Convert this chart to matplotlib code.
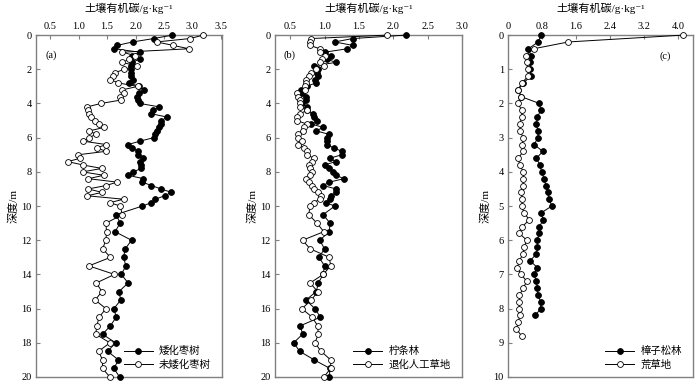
import matplotlib
matplotlib.use("Agg")
import matplotlib.pyplot as plt

plt.rcParams['font.family'] = ['Liberation Serif', 'Noto Sans CJK SC', 'DejaVu Sans']
plt.rcParams['font.size'] = 7.5

# sample depths (m)
depth_ab = [0.0, 0.2, 0.4, 0.6, 0.8, 1.0, 1.2, 1.4, 1.6, 1.8,
            2.0, 2.2, 2.4, 2.6, 2.8, 3.0, 3.2, 3.4, 3.6, 3.8,
            4.0, 4.2, 4.4, 4.6, 4.8, 5.0, 5.2, 5.4, 5.6, 5.8,
            6.0, 6.2, 6.4, 6.6, 6.8, 7.0, 7.2, 7.4, 7.6, 7.8,
            8.0, 8.2, 8.4, 8.6, 8.8, 9.0, 9.2, 9.4, 9.6, 9.8,
            10.0, 10.5, 11.0, 11.5, 12.0, 12.5, 13.0, 13.5, 14.0, 14.5,
            15.0, 15.5, 16.0, 16.5, 17.0, 17.5, 18.0, 18.5, 19.0, 19.5, 20.0]
depth_c_pine = [0.0, 0.2, 0.4, 0.6, 0.8, 1.0, 1.2, 1.4, 1.6, 1.8,
                2.0, 2.2, 2.4, 2.6, 2.8, 3.0, 3.2, 3.4, 3.6, 3.8,
                4.0, 4.2, 4.4, 4.6, 4.8, 5.0, 5.2, 5.4, 5.6, 5.8,
                6.0, 6.2, 6.4, 6.6, 6.8, 7.0, 7.2, 7.4, 7.6, 7.8,
                8.0, 8.2]
depth_c_grass = depth_c_pine + [8.4, 8.6, 8.8]

# soil organic carbon, g/kg
dwarf_jujube = [2.65, 2.32, 1.95, 1.68, 1.63, 2.08, 1.93, 2.08, 1.93, 1.92,
                1.92, 1.92, 1.92, 1.95, 1.88, 2.07, 2.15, 2.06, 2.03, 2.04,
                2.08, 2.42, 2.31, 2.28, 2.56, 2.45, 2.45, 2.42, 2.37, 2.35,
                2.32, 2.08, 1.87, 1.94, 2.04, 2.04, 2.14, 2.08, 2.10, 2.10,
                1.96, 1.87, 2.14, 2.12, 2.28, 2.45, 2.63, 2.51, 2.35, 2.28,
                2.12, 1.66, 1.73, 1.64, 1.93, 1.82, 1.79, 1.83, 1.75, 1.87,
                1.71, 1.74, 1.62, 1.66, 1.56, 1.42, 1.65, 1.51, 1.70, 1.62, 1.72]
normal_jujube = [3.19, 2.96, 2.37, 2.66, 2.94, 1.77, 1.99, 1.89, 1.77, 2.02,
                 1.80, 1.64, 1.60, 1.56, 1.70, 2.04, 1.77, 1.80, 1.73, 1.74,
                 1.39, 1.15, 1.17, 1.19, 1.21, 1.29, 1.36, 1.45, 1.19, 1.30,
                 1.19, 1.07, 1.48, 1.32, 1.48, 0.99, 1.03, 0.81, 1.08, 1.41,
                 1.07, 1.44, 1.17, 1.68, 1.48, 1.17, 1.41, 1.15, 1.79, 1.55,
                 1.73, 1.77, 1.48, 1.49, 1.48, 1.42, 1.56, 1.18, 1.63, 1.31,
                 1.41, 1.29, 1.48, 1.36, 1.32, 1.30, 1.55, 1.35, 1.42, 1.42, 1.55]
caragana = [2.18, 1.41, 1.15, 1.41, 1.33, 1.00, 1.10, 1.04, 1.16, 0.84,
            0.91, 0.89, 0.90, 0.86, 0.87, 0.74, 0.66, 0.67, 0.73, 0.73,
            0.67, 0.74, 0.74, 0.83, 0.84, 0.89, 0.81, 0.98, 0.88, 1.06,
            1.03, 1.04, 1.03, 1.14, 1.25, 1.25, 1.08, 1.16, 1.00, 1.06,
            1.13, 1.17, 1.28, 1.07, 0.98, 1.17, 1.17, 1.10, 1.08, 1.02,
            1.15, 0.98, 1.08, 1.07, 0.93, 1.00, 0.92, 1.00, 0.98, 0.91,
            0.88, 0.73, 0.86, 0.94, 0.65, 0.68, 0.55, 0.64, 0.85, 1.08, 1.07]
degraded_grass = [1.91, 0.81, 0.79, 0.79, 0.93, 0.94, 1.01, 0.96, 0.94, 0.99,
                  0.88, 0.81, 0.78, 0.73, 0.73, 0.72, 0.72, 0.60, 0.62, 0.64,
                  0.65, 0.65, 0.74, 0.65, 0.60, 0.60, 0.74, 0.70, 0.68, 0.62,
                  0.62, 0.67, 0.62, 0.70, 0.74, 0.75, 0.84, 0.82, 0.77, 0.79,
                  0.82, 0.79, 0.73, 0.78, 0.82, 0.84, 0.90, 0.95, 0.93, 0.84,
                  0.79, 0.77, 0.89, 0.99, 0.68, 0.79, 1.07, 1.09, 0.98, 0.79,
                  0.90, 0.81, 0.67, 0.82, 0.90, 0.91, 0.86, 0.95, 1.09, 1.09, 0.99]
pine = [0.78, 0.71, 0.48, 0.54, 0.52, 0.52, 0.54, 0.36, 0.24, 0.31,
        0.74, 0.77, 0.69, 0.67, 0.70, 0.71, 0.61, 0.82, 0.67, 0.75,
        0.79, 0.85, 0.89, 0.93, 0.97, 1.03, 0.78, 0.83, 0.74, 0.73,
        0.69, 0.69, 0.67, 0.52, 0.69, 0.61, 0.67, 0.69, 0.70, 0.77,
        0.77, 0.64]
wild_grass = [4.11, 1.42, 0.60, 0.42, 0.44, 0.46, 0.48, 0.32, 0.24, 0.31,
              0.24, 0.32, 0.32, 0.28, 0.28, 0.36, 0.34, 0.36, 0.24, 0.28,
              0.36, 0.36, 0.35, 0.31, 0.34, 0.32, 0.38, 0.50, 0.34, 0.27,
              0.44, 0.38, 0.35, 0.27, 0.22, 0.31, 0.44, 0.36, 0.27, 0.27,
              0.26, 0.28, 0.24, 0.20, 0.32]

xlabel = '土壤有机碳/g·kg⁻¹'
ylabel = '深度/m'

fig = plt.figure(figsize=(7, 3.85), dpi=100)
ax_a = fig.add_axes([0.0514, 0.0208, 0.2657, 0.888])
ax_b = fig.add_axes([0.3929, 0.0208, 0.2671, 0.888])
ax_c = fig.add_axes([0.7257, 0.0208, 0.2643, 0.888])

panels = [
    (ax_a, depth_ab, dwarf_jujube, depth_ab, normal_jujube, '矮化枣树', '未矮化枣树',
     (0.25, 3.52), [0.5, 1.0, 1.5, 2.0, 2.5, 3.0, 3.5], ['0.5', '1.0', '1.5', '2.0', '2.5', '3.0', '3.5'],
     (20, 0), list(range(0, 21, 2)), '(a)', (0.05, 0.935)),
    (ax_b, depth_ab, caragana, depth_ab, degraded_grass, '柠条林', '退化人工草地',
     (0.28, 3.0), [0.5, 1.0, 1.5, 2.0, 2.5, 3.0], ['0.5', '1.0', '1.5', '2.0', '2.5', '3.0'],
     (20, 0), list(range(0, 21, 2)), '(b)', (0.045, 0.935)),
    (ax_c, depth_c_pine, pine, depth_c_grass, wild_grass, '樟子松林', '荒草地',
     (0, 4.35), [0, 0.8, 1.6, 2.4, 3.2, 4.0], ['0', '0.8', '1.6', '2.4', '3.2', '4.0'],
     (10, 0), list(range(0, 11)), '(c)', (0.82, 0.93)),
]

for ax, d1, v1, d2, v2, lab1, lab2, xlim, xt, xtl, ylim, yt, tag, tagpos in panels:
    ax.plot(v1, d1, color='black', lw=0.7, marker='o', ms=4.2,
            mfc='black', mec='black', mew=0.6, label=lab1, clip_on=False, zorder=3)
    ax.plot(v2, d2, color='black', lw=0.7, marker='o', ms=4.2,
            mfc='white', mec='black', mew=0.6, label=lab2, clip_on=False, zorder=4)
    ax.set_xlim(*xlim)
    ax.set_ylim(*ylim)
    ax.set_xticks(xt)
    ax.set_xticklabels(xtl)
    ax.set_yticks(yt)
    ax.xaxis.tick_top()
    ax.xaxis.set_label_position('top')
    ax.set_xlabel(xlabel, labelpad=7, fontsize=8)
    ax.set_ylabel(ylabel, labelpad=2, fontsize=8)
    ax.tick_params(axis='both', direction='in', length=3, width=0.8,
                   color='#808080', pad=3, labelsize=7.5)
    for s in ax.spines.values():
        s.set_color('#808080')
        s.set_linewidth(1.0)
    ax.text(tagpos[0], tagpos[1], tag, transform=ax.transAxes, fontsize=7.5)
    ax.legend(loc='lower right', frameon=False, handlelength=2.8,
              handletextpad=0.6, labelspacing=0.3, borderaxespad=0.3,
              bbox_to_anchor=(0.98, 0.0))

fig.savefig('out.png', dpi=100)
